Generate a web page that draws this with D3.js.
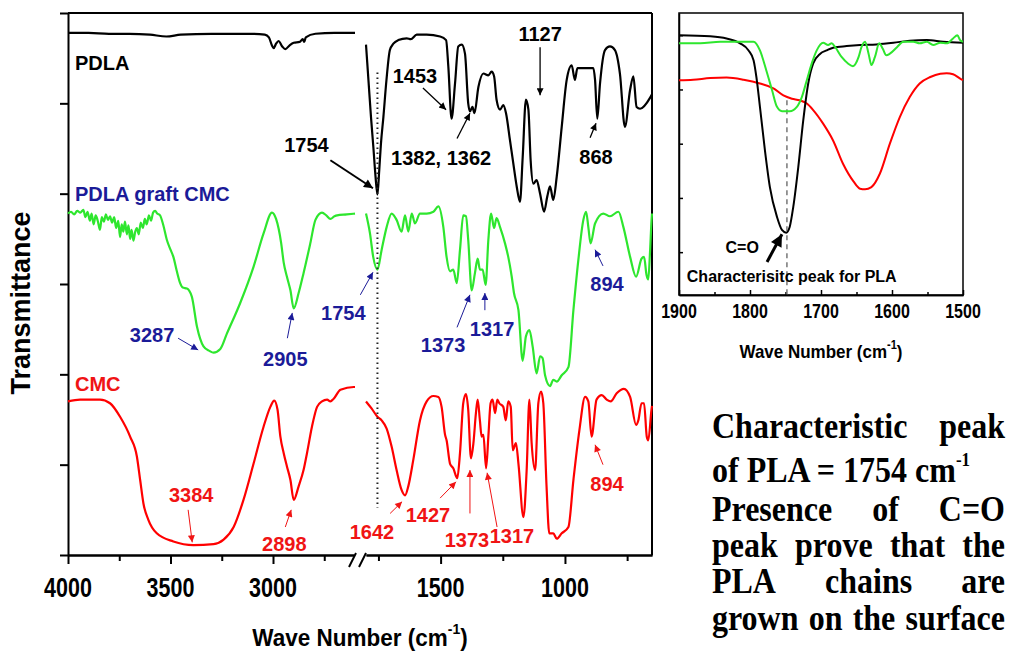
<!DOCTYPE html>
<html>
<head>
<meta charset="utf-8">
<script src="https://cdn.jsdelivr.net/npm/d3@7"></script>
<style>
  body { margin: 0; background: #fff; }
  svg { display: block; }
  text { font-family: "Liberation Sans", Arial, sans-serif; }
</style>
</head>
<body>
<div class="chart"></div>
<script>
// FTIR spectra of PDLA, PDLA graft CMC and CMC (broken wavenumber axis) + C=O inset

// Data: [wavenumber (cm-1), transmittance (a.u., offset)]
// ==============================
var pdlaLeft = [[4000,5.78],[3900,5.78],[3800,5.77],[3700,5.77],[3600,5.76],[3520,5.74],[3450,5.76],[3300,5.77],[3100,5.77],
  [3040,5.76],[3020,5.73],[3005,5.64],[2997,5.61],[2985,5.66],[2973,5.69],[2955,5.63],[2940,5.60],[2920,5.64],[2899,5.67],
  [2870,5.68],[2855,5.71],[2848,5.68],[2840,5.73],[2793,5.77],[2700,5.78],[2600,5.78]];

var pdlaRight = [[1800,5.65],[1790,5.25],[1780,4.85],[1770,4.50],[1762,4.20],[1754,3.99],[1747,4.25],[1740,4.55],[1730,4.85],
  [1718,5.25],[1704,5.59],[1690,5.66],[1670,5.70],[1636,5.72],[1620,5.71],[1596,5.76],[1556,5.76],[1502,5.74],[1478,5.70],
  [1469,5.41],[1456,4.83],[1442,5.22],[1429,5.63],[1415,5.65],[1402,5.55],[1389,5.00],[1382,4.91],[1372,4.96],[1364,4.89],
  [1348,5.18],[1328,5.33],[1308,5.31],[1295,5.35],[1285,5.30],[1275,5.04],[1261,4.93],[1248,4.98],[1237,4.89],[1221,4.59],
  [1208,4.34],[1194,4.08],[1181,3.91],[1170,4.40],[1157,5.04],[1147,4.93],[1138,4.37],[1127,4.11],[1114,4.15],[1100,4.00],
  [1084,3.80],[1071,3.97],[1060,4.08],[1047,3.93],[1033,4.19],[1013,4.74],[993,5.26],[973,5.42],[960,5.26],[950,5.39],
  [913,5.39],[886,5.39],[879,5.26],[870,4.83],[859,5.22],[839,5.59],[819,5.63],[799,5.59],[779,5.33],[759,4.74],[738,5.15],
  [725,5.30],[712,4.96],[698,4.94],[658,5.06],[650,5.10]];

var graftLeft = [[4000,3.78],[3985,3.80],[3970,3.77],[3955,3.81],[3940,3.79],[3925,3.82],[3915,3.74],[3905,3.80],[3893,3.70],
  [3885,3.78],[3875,3.66],[3865,3.76],[3855,3.70],[3844,3.60],[3835,3.74],[3825,3.69],[3815,3.77],[3805,3.71],[3795,3.75],
  [3785,3.68],[3775,3.74],[3765,3.62],[3755,3.70],[3746,3.52],[3738,3.66],[3730,3.58],[3722,3.69],[3713,3.55],[3705,3.65],
  [3697,3.50],[3690,3.60],[3681,3.48],[3672,3.58],[3664,3.62],[3655,3.55],[3645,3.68],[3635,3.62],[3625,3.72],[3616,3.66],
  [3605,3.76],[3595,3.70],[3585,3.79],[3575,3.81],[3565,3.78],[3551,3.76],[3535,3.65],[3518,3.49],[3500,3.38],[3486,3.30],
  [3470,3.15],[3453,3.01],[3440,2.96],[3420,2.95],[3396,2.86],[3371,2.53],[3339,2.31],[3310,2.26],[3290,2.24],[3257,2.28],
  [3225,2.45],[3160,2.79],[3095,3.19],[3046,3.56],[3005,3.79],[2985,3.72],[2960,3.45],[2948,3.24],[2932,3.08],[2915,2.93],
  [2899,2.73],[2875,2.90],[2851,3.12],[2818,3.45],[2793,3.71],[2761,3.79],[2740,3.76],[2720,3.72],[2700,3.75],[2687,3.76],
  [2640,3.77],[2600,3.78]];

var graftRight = [[1800,3.78],[1784,3.56],[1771,3.30],[1754,3.16],[1737,3.38],[1717,3.63],[1697,3.78],[1677,3.71],[1657,3.58],
  [1643,3.76],[1630,3.58],[1616,3.78],[1603,3.67],[1583,3.78],[1556,3.78],[1529,3.80],[1509,3.86],[1489,3.63],[1476,3.30],
  [1462,3.14],[1449,3.16],[1435,3.01],[1422,3.38],[1409,3.76],[1398,3.75],[1389,3.49],[1375,2.93],[1362,3.12],[1351,3.28],
  [1342,3.16],[1331,3.16],[1319,2.99],[1308,3.49],[1297,3.78],[1285,3.62],[1275,3.73],[1261,3.63],[1241,3.45],[1228,3.30],
  [1214,3.08],[1205,2.90],[1187,2.71],[1170,2.15],[1157,2.42],[1143,2.49],[1130,2.31],[1114,2.01],[1100,2.20],[1090,2.18],
  [1080,1.99],[1060,1.87],[1047,1.94],[1033,1.92],[1013,1.99],[986,2.08],[966,2.71],[946,3.27],[926,3.71],[915,3.80],
  [906,3.63],[897,3.45],[879,3.67],[846,3.78],[819,3.75],[785,3.80],[765,3.63],[738,3.30],[714,3.08],[692,3.28],[682,3.30],
  [672,3.10],[665,3.05],[658,3.35],[652,3.70],[650,3.78]];

var cmcLeft = [[4000,1.70],[3941,1.72],[3844,1.72],[3795,1.68],[3746,1.53],[3697,1.31],[3664,1.09],[3648,0.83],[3632,0.57],
  [3608,0.39],[3567,0.24],[3486,0.15],[3388,0.11],[3290,0.12],[3241,0.17],[3192,0.31],[3144,0.61],[3095,1.01],[3046,1.42],
  [3013,1.64],[2994,1.71],[2978,1.61],[2964,1.31],[2948,1.13],[2932,0.98],[2915,0.83],[2899,0.61],[2875,0.76],[2851,0.94],
  [2834,1.13],[2810,1.42],[2785,1.64],[2761,1.70],[2736,1.72],[2720,1.70],[2704,1.73],[2671,1.83],[2606,1.86],[2600,1.86]];

var cmcRight = [[1800,1.70],[1777,1.62],[1754,1.53],[1737,1.49],[1717,1.40],[1697,1.20],[1677,0.94],[1657,0.72],[1643,0.66],
  [1630,0.76],[1610,1.05],[1583,1.49],[1556,1.70],[1529,1.76],[1509,1.75],[1496,1.64],[1482,1.33],[1476,1.27],[1462,1.01],
  [1449,0.96],[1433,0.85],[1422,1.13],[1409,1.68],[1398,1.78],[1389,1.61],[1378,1.07],[1368,1.24],[1358,1.57],[1351,1.72],
  [1342,1.49],[1335,1.31],[1328,1.33],[1317,0.96],[1308,1.31],[1299,1.68],[1291,1.72],[1281,1.57],[1272,1.72],[1264,1.68],
  [1248,1.64],[1238,1.49],[1228,1.70],[1218,1.64],[1210,1.16],[1197,1.24],[1187,1.01],[1167,0.42],[1154,0.94],[1143,1.72],
  [1134,1.24],[1120,0.94],[1107,1.68],[1096,1.81],[1087,1.68],[1074,0.76],[1063,0.24],[1047,0.24],[1033,0.18],[1013,0.24],
  [986,0.31],[966,0.83],[942,1.38],[919,1.75],[906,1.70],[893,1.31],[873,1.72],[852,1.77],[832,1.72],[816,1.70],[792,1.79],
  [763,1.84],[738,1.75],[714,1.44],[705,1.49],[692,1.68],[682,1.68],[671,1.31],[665,1.27],[652,1.61],[650,1.65]];

// inset (1900-1500 cm-1)
var insetPdla = [[1900,4.00],[1856,3.98],[1833,3.94],[1814,3.85],[1802,3.72],[1795,3.54],[1791,3.23],[1786,2.68],[1779,1.88],
  [1772,1.20],[1762,0.65],[1755,0.41],[1749,0.36],[1744,0.47],[1739,0.84],[1732,1.57],[1725,2.43],[1718,3.11],[1711,3.48],
  [1701,3.66],[1692,3.72],[1683,3.77],[1664,3.80],[1645,3.82],[1622,3.83],[1598,3.86],[1575,3.90],[1551,3.91],[1528,3.88],[1500,3.86]];

var insetGraft = [[1900,3.85],[1870,3.85],[1842,3.88],[1795,3.88],[1786,3.72],[1777,3.35],[1769,2.99],[1762,2.68],[1755,2.60],
  [1744,2.60],[1734,2.68],[1727,2.86],[1720,3.17],[1713,3.48],[1706,3.72],[1697,3.86],[1690,3.82],[1685,3.85],[1680,3.78],
  [1671,3.60],[1662,3.48],[1655,3.43],[1647,3.60],[1643,3.78],[1638,3.88],[1633,3.66],[1629,3.45],[1624,3.60],[1618,3.85],
  [1613,3.75],[1608,3.63],[1603,3.66],[1593,3.78],[1584,3.88],[1570,3.88],[1561,3.85],[1551,3.88],[1542,3.82],[1532,3.86],
  [1523,3.85],[1514,3.94],[1508,4.00],[1504,3.91],[1500,3.88]];

var insetCmc = [[1900,3.17],[1880,3.18],[1856,3.21],[1833,3.22],[1809,3.18],[1786,3.11],[1767,3.02],[1753,2.89],[1741,2.83],
  [1730,2.80],[1720,2.74],[1711,2.62],[1697,2.37],[1683,2.06],[1669,1.63],[1654,1.30],[1645,1.17],[1638,1.16],[1629,1.20],
  [1617,1.45],[1603,2.00],[1589,2.49],[1575,2.86],[1561,3.11],[1546,3.23],[1532,3.29],[1523,3.30],[1514,3.28],[1504,3.20],[1500,3.17]];

// tick values
var leftMajor = [4000, 3500, 3000];
var leftMinor = [3750, 3250, 2750];
var rightMajor = [1500, 1000];
var rightMinor = [1750, 1250, 750];
var yTicks = [0, 1, 2, 3, 4, 5, 6];
var insetMajor = [1900, 1800, 1700, 1600, 1500];
var insetMinor = [1850, 1750, 1650, 1550];
var insetYTicks = [0, 1, 2, 3, 4];

// peak labels: [text, label w, label v, arrow-from w, v, arrow-to w, v]
var pdlaPeaks = [
  ["1453", 1603, 5.23, 1571, 5.17, 1478, 4.93],
  ["1382, 1362", 1498, 4.32, 1434, 4.61, 1382, 4.89],
  ["1127", 1100, 5.69, 1100, 5.62, 1100, 5.09],
  ["868", 875, 4.33, 899, 4.62, 875, 4.78]
];
var pdlaMain = ["1754", 2837, 4.46, 2720, 4.37, 1772, 4.06];
var graftPeaks = [
  ["3287", 3590, 2.36, 3463, 2.40, 3365, 2.27],
  ["2905", 2940, 2.09, 2930, 2.40, 2906, 2.68],
  ["1754", 2657, 2.60, 2574, 2.88, 1772, 3.13],
  ["1373", 1490, 2.25, 1434, 2.52, 1382, 2.88],
  ["1317", 1293, 2.42, 1322, 2.71, 1322, 2.90],
  ["894", 831, 2.92, 847, 3.20, 879, 3.38]
];
var cmcPeaks = [
  ["3384", 3399, 0.59, 3414, 0.50, 3394, 0.14],
  ["2898", 2945, 0.04, 2940, 0.31, 2911, 0.50],
  ["1642", 1776, 0.18, 1703, 0.46, 1655, 0.59],
  ["1427", 1551, 0.37, 1502, 0.63, 1438, 0.81],
  ["1373", 1394, 0.09, 1382, 0.46, 1382, 0.94],
  ["1317", 1213, 0.13, 1273, 0.31, 1313, 0.91],
  ["894", 831, 0.71, 847, 1.00, 879, 1.22]
];

var noteLines = [
  ["Characteristic", "peak"],
  ["of", "PLA", "=", "1754", "cm"],
  ["Presence", "of", "C=O"],
  ["peak", "prove", "that", "the"],
  ["PLA", "chains", "are"],
  ["grown", "on", "the", "surface"]
];

// Set up the chart
// ==============================
var svgWidth = 1010;
var svgHeight = 651;

var colors = { pdla: "#000000", graft: "#2ee62e", cmc: "#ff0000", graftText: "#1b1b98", cmcText: "#f01414" };

var svg = d3.select(".chart")
  .append("svg")
  .attr("width", svgWidth)
  .attr("height", svgHeight);

var defs = svg.append("defs");
function addMarker(id, color, w, h) {
  defs.append("marker")
    .attr("id", id)
    .attr("viewBox", "0 0 10 10")
    .attr("refX", 10)
    .attr("refY", 5)
    .attr("markerUnits", "userSpaceOnUse")
    .attr("markerWidth", w)
    .attr("markerHeight", h)
    .attr("orient", "auto")
    .append("path")
    .attr("d", "M0,0L10,5L0,10z")
    .attr("fill", color);
}
addMarker("headBlack", colors.pdla, 10, 7);
addMarker("headBlackBig", colors.pdla, 13, 9);
addMarker("headBlue", colors.graftText, 10, 7);
addMarker("headRed", colors.cmcText, 10, 7);
addMarker("headInset", "#000", 14, 12);

function addText(g, x, yb, str, o) {
  o = o || {};
  return g.append("text")
    .attr("transform", "translate(" + x + "," + yb + ")" + (o.rot ? " rotate(" + o.rot + ")" : "") + (o.sy ? " scale(1," + o.sy + ")" : ""))
    .attr("text-anchor", o.anchor || "middle")
    .style("font-size", (o.size || 20) + "px")
    .style("font-weight", o.weight || "bold")
    .attr("fill", o.color || "#000")
    .text(str);
}

// Main plot scales (broken x axis)
// ==============================
var xLeft = d3.scaleLinear().domain([4000, 2600]).range([68, 355]);
var xRight = d3.scaleLinear().domain([1800, 650]).range([366, 652]);
var yScale = d3.scaleLinear().domain([0, 6]).range([555, 13]);
function xw(w) { return w > 2200 ? xLeft(w) : xRight(w); }

var chartGroup = svg.append("g");

// axes
chartGroup.append("g")
  .attr("transform", "translate(68,0)")
  .call(d3.axisLeft(yScale).tickValues(yTicks).tickSize(8).tickSizeOuter(0).tickFormat(""));

function bottomAxis(scale, major, minor) {
  chartGroup.append("g")
    .attr("transform", "translate(0,555)")
    .call(d3.axisBottom(scale).tickValues(major).tickSize(9).tickSizeOuter(0).tickFormat(""));
  chartGroup.append("g")
    .attr("transform", "translate(0,555)")
    .call(d3.axisBottom(scale).tickValues(minor).tickSize(6).tickSizeOuter(0).tickFormat(""));
  major.forEach(function (t) {
    addText(chartGroup, scale(t), 597, t, { size: 21.5, sy: 1.25 });
  });
}
bottomAxis(xLeft, leftMajor, leftMinor);
bottomAxis(xRight, rightMajor, rightMinor);

chartGroup.selectAll(".domain, .tick line")
  .attr("stroke", "#000")
  .attr("stroke-width", 2);

// top and right border
chartGroup.append("line")
  .attr("x1", 68).attr("x2", xRight(650))
  .attr("y1", yScale(6)).attr("y2", yScale(6))
  .attr("stroke", "#000").attr("stroke-width", 2);
chartGroup.append("line")
  .attr("x1", xRight(650)).attr("x2", xRight(650))
  .attr("y1", yScale(6)).attr("y2", yScale(0))
  .attr("stroke", "#000").attr("stroke-width", 2);

// axis break marks
[xLeft(2600) - 1, xRight(1800) - 2].forEach(function (bx) {
  chartGroup.append("line")
    .attr("x1", bx - 5).attr("y1", 567)
    .attr("x2", bx + 2).attr("y2", 553)
    .attr("stroke", "#000").attr("stroke-width", 2);
});
// white gap between the two bottom axis pieces
chartGroup.append("rect")
  .attr("x", xLeft(2600) - 0.5).attr("y", 553)
  .attr("width", xRight(1800) - xLeft(2600) - 3).attr("height", 5)
  .attr("fill", "#fff");
chartGroup.selectAll("line").filter(function () { return +this.getAttribute("y2") === 553; }).raise();

// axis titles
var xt = addText(chartGroup, 360, 646, "Wave Number (cm", { size: 22.5, sy: 1.1 });
xt.append("tspan").attr("dy", -11).style("font-size", "14px").text("-1");
xt.append("tspan").attr("dy", 11).text(")");
addText(chartGroup, 30, 303, "Transmittance", { size: 27, rot: -90 });

// Curves
// ==============================
var line = d3.line()
  .x(function (d) { return xw(d[0]); })
  .y(function (d) { return yScale(d[1]); })
  .curve(d3.curveMonotoneX);

[[pdlaLeft, colors.pdla], [pdlaRight, colors.pdla], [graftLeft, colors.graft], [graftRight, colors.graft],
 [cmcLeft, colors.cmc], [cmcRight, colors.cmc]].forEach(function (s) {
  chartGroup.append("path")
    .datum(s[0])
    .attr("d", line)
    .attr("fill", "none")
    .attr("stroke", s[1])
    .attr("stroke-width", 2.2)
    .attr("stroke-linejoin", "round");
});

// dotted guide at 1754
chartGroup.append("line")
  .attr("x1", xRight(1754)).attr("x2", xRight(1754))
  .attr("y1", yScale(5.34)).attr("y2", yScale(0.52))
  .attr("stroke", "#222").attr("stroke-width", 2)
  .attr("stroke-dasharray", "1.5,3.5");

// Series names and peak labels
// ==============================
addText(chartGroup, xLeft(3966), yScale(5.37), "PDLA", { anchor: "start", size: 20 });
addText(chartGroup, xLeft(3966), yScale(3.92), "PDLA graft CMC", { anchor: "start", size: 20, color: colors.graftText });
addText(chartGroup, xLeft(3966), yScale(1.82), "CMC", { anchor: "start", size: 20, color: colors.cmcText });

function drawPeaks(list, color, marker, width) {
  list.forEach(function (p) {
    addText(chartGroup, xw(p[1]), yScale(p[2]), p[0], { size: 20, color: color });
    chartGroup.append("line")
      .attr("x1", xw(p[3])).attr("y1", yScale(p[4]))
      .attr("x2", xw(p[5])).attr("y2", yScale(p[6]))
      .attr("stroke", color)
      .attr("stroke-width", width)
      .attr("marker-end", "url(#" + marker + ")");
  });
}
drawPeaks([pdlaMain], colors.pdla, "headBlackBig", 2);
drawPeaks(pdlaPeaks, colors.pdla, "headBlack", 1.3);
drawPeaks(graftPeaks, colors.graftText, "headBlue", 1);
drawPeaks(cmcPeaks, colors.cmcText, "headRed", 1);

// Inset
// ==============================
var xI = d3.scaleLinear().domain([1900, 1500]).range([679, 963]);
var yI = d3.scaleLinear().domain([-0.79, 4.41]).range([295, 13]);
var inset = svg.append("g");

inset.append("g")
  .attr("transform", "translate(0,295)")
  .call(d3.axisBottom(xI).tickValues(insetMajor).tickSize(-5).tickSizeOuter(0).tickFormat(""));
inset.append("g")
  .attr("transform", "translate(0,295)")
  .call(d3.axisBottom(xI).tickValues(insetMinor).tickSize(-3).tickSizeOuter(0).tickFormat(""));
inset.append("g")
  .attr("transform", "translate(679,0)")
  .call(d3.axisLeft(yI).tickValues(insetYTicks).tickSize(-4).tickSizeOuter(0).tickFormat(""));
inset.selectAll(".domain, .tick line").attr("stroke", "#000").attr("stroke-width", 1.5);

inset.append("rect")
  .attr("x", xI(1900)).attr("y", yI(4.41))
  .attr("width", xI(1500) - xI(1900)).attr("height", yI(-0.79) - yI(4.41))
  .attr("fill", "none").attr("stroke", "#000").attr("stroke-width", 1.5);

insetMajor.forEach(function (t) {
  addText(inset, xI(t), 318, t, { size: 16, sy: 1.3 });
});
var ixt = addText(inset, 821, 358, "Wave Number (cm", { size: 17, sy: 1.1 });
ixt.append("tspan").attr("dy", -8).style("font-size", "11px").text("-1");
ixt.append("tspan").attr("dy", 8).text(")");

var lineI = d3.line()
  .x(function (d) { return xI(d[0]); })
  .y(function (d) { return yI(d[1]); })
  .curve(d3.curveMonotoneX);

inset.append("line")
  .attr("x1", xI(1748)).attr("x2", xI(1748))
  .attr("y1", yI(2.80)).attr("y2", yI(-0.79))
  .attr("stroke", "#777").attr("stroke-width", 1.5)
  .attr("stroke-dasharray", "5,4");

[[insetCmc, colors.cmc], [insetPdla, colors.pdla], [insetGraft, colors.graft]].forEach(function (s) {
  inset.append("path")
    .datum(s[0])
    .attr("d", lineI)
    .attr("fill", "none")
    .attr("stroke", s[1])
    .attr("stroke-width", 2)
    .attr("stroke-linejoin", "round");
});

addText(inset, xI(1811), yI(-0.02), "C=O", { size: 16 });
inset.append("line")
  .attr("x1", xI(1776)).attr("y1", yI(-0.18))
  .attr("x2", xI(1755)).attr("y2", yI(0.33))
  .attr("stroke", "#000").attr("stroke-width", 3)
  .attr("marker-end", "url(#headInset)");
addText(inset, xI(1889), yI(-0.55), "Characterisitc peak for PLA", { anchor: "start", size: 16 });

// Note text (justified block)
// ==============================
var note = svg.append("g")
  .style("font-family", "'Liberation Serif', 'Times New Roman', serif");
var noteLeft = 712, noteRight = 1005;
var noteBase = [438, 482, 521, 557, 593, 630];

noteLines.forEach(function (words, i) {
  if (i === 1) {
    var t = addText(note, noteLeft, noteBase[i], words.join(" "), { anchor: "start", size: 32, sy: 1.1 });
    t.style("font-family", "'Liberation Serif', 'Times New Roman', serif");
    t.append("tspan").attr("dy", -15).style("font-size", "17px").text("-1");
    return;
  }
  var nodes = words.map(function (w) {
    return addText(note, 0, noteBase[i], w, { anchor: "start", size: 32, sy: 1.1 })
      .style("font-family", "'Liberation Serif', 'Times New Roman', serif");
  });
  var widths = nodes.map(function (n) { return n.node().getComputedTextLength(); });
  var gap = (noteRight - noteLeft - d3.sum(widths)) / (words.length - 1);
  var cx = noteLeft;
  nodes.forEach(function (n, k) {
    n.attr("transform", "translate(" + cx + "," + noteBase[i] + ") scale(1,1.1)");
    cx += widths[k] + gap;
  });
});
</script>
</body>
</html>
